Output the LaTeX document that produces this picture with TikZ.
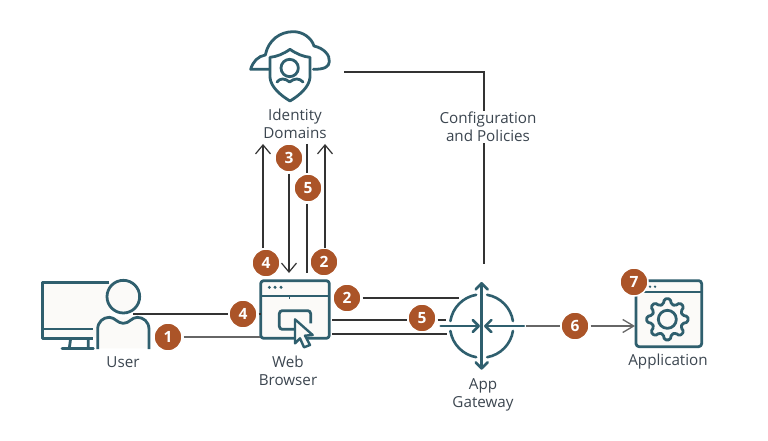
\documentclass[tikz,border=0pt]{standalone}
\usepackage{fontspec}
\setmainfont{Open Sans}
\usetikzlibrary{arrows.meta}
\definecolor{teal}{HTML}{2F5F6E}
\definecolor{badgec}{HTML}{AB5428}
\definecolor{labelc}{HTML}{3C4650}
\definecolor{paper}{HTML}{FBFAF8}
\tikzset{
  conn/.style={draw=black!80,line width=1.2pt},
  gconn/.style={draw=black!60,line width=1.5pt},
  flow/.style={conn,-{Straight Barb[length=9pt,width=15pt,line width=1.2pt]}},
  gflow/.style={gconn,-{Straight Barb[length=11pt,width=13pt,line width=1.3pt]}},
  icon/.style={draw=teal,line width=2.8pt,line join=round},
  thinicon/.style={draw=teal,line width=2.4pt,line join=round},
  badge/.style={circle,fill=badgec,draw=white,line width=1.5pt,minimum size=28pt,inner sep=0pt,
    text=white,font=\fontsize{15.5}{15.5}\selectfont\bfseries,outer sep=1.5pt},
  lbl/.style={text=labelc,font=\fontsize{15.2}{18.5}\selectfont,align=center,inner sep=1pt},
  zoomed/.style={shift={#1},scale=1/3},
  gwarrow/.style={draw=teal,line width=2.6pt,line join=round,line cap=round,fill=none},
}
\begin{document}
\begin{tikzpicture}[x=1pt,y=-1pt]
\useasboundingbox (0,0) rectangle (768,441);
\fill[white] (0,0) rectangle (768,441);

% ---- Identity Domains icon
\begin{scope}[zoomed={(230,20)}]
  \draw[icon,line cap=round] (118,148) -- (62,148) .. controls (68,125) and (85,108) .. (106,105)
    .. controls (115,60) and (150,35) .. (190,35) .. controls (220,35) and (245,55) .. (252,78)
    .. controls (282,85) and (300,105) .. (298,125) .. controls (297,140) and (285,148) .. (250,148);
  \draw[icon,fill=white] (180,88) .. controls (160,102) and (140,110) .. (120,112) -- (120,172)
    .. controls (122,200) and (150,225) .. (180,243) .. controls (210,225) and (238,200) .. (240,172)
    -- (240,112) .. controls (220,110) and (200,102) .. (180,88) -- cycle;
  \draw[icon] (179,144) circle[radius=26];
  \draw[icon,line cap=round] (141,186) .. controls (150,174) and (165,174) .. (179,186)
    .. controls (193,174) and (208,174) .. (219,186);
\end{scope}

% ---- User icon
\begin{scope}[zoomed={(30,260)}]
  \fill[paper] (38,68) rectangle (240,235);
  \draw[icon] (238,68) -- (38,68) -- (38,235) -- (190,235);
  \draw[icon] (38,207) -- (190,207);
  \draw[icon] (122,235) -- (118,264) (175,235) -- (175,264);
  \draw[icon,line cap=round] (96,265) -- (190,265);
  \draw[icon,fill=paper] (280,110) circle[radius=49];
  \fill[paper] (203,265) -- (203,205) -- (235,172) -- (325,172) -- (357,205) -- (357,265) -- cycle;
  \draw[icon] (203,267) -- (203,208) .. controls (203,185) and (220,172) .. (238,172)
    .. controls (255,172) and (262,190) .. (280,190) .. controls (298,190) and (305,172) .. (322,172)
    .. controls (340,172) and (357,185) .. (357,208) -- (357,267);
\end{scope}

% ---- Web browser icon
\begin{scope}[zoomed={(220,240)}]
  \draw[icon,fill=paper,rounded corners=3pt] (122,122) rectangle (328,295);
  \draw[icon] (122,168) -- (328,168);
  \draw[draw=teal,line width=1.6pt] (208,166) -- (208,176);
  \fill[teal] (148,142) circle[radius=5] (165,142) circle[radius=5] (183,142) circle[radius=5];
  \draw[icon,rounded corners=3pt] (225,268) -- (178,268) -- (178,212) -- (272,212) -- (272,250);
  \draw[thinicon,fill=paper] (225,238) -- (278,285) -- (255,287) -- (270,315) -- (252,322) -- (240,295) -- (225,310) -- cycle;
\end{scope}

% ---- App gateway icon
\begin{scope}[zoomed={(400,270)}]
  \draw[gwarrow] (245,168) ++(80:95) arc[start angle=80,end angle=9,radius=95];
  \draw[gwarrow] (245,168) ++(100:95) arc[start angle=100,end angle=171,radius=95];
  \draw[gwarrow] (245,168) ++(-80:95) arc[start angle=-80,end angle=-9,radius=95];
  \draw[gwarrow] (245,168) ++(-100:95) arc[start angle=-100,end angle=-171,radius=95];
  \draw[gwarrow] (245,40) -- (245,295);
  \draw[gwarrow] (227,58) -- (245,40) -- (263,58);
  \draw[gwarrow] (227,277) -- (245,295) -- (263,277);
  \draw[gwarrow] (122,168) -- (236,168);
  \draw[gwarrow] (218,150) -- (236,168) -- (218,186);
  \draw[gwarrow] (372,168) -- (256,168);
  \draw[gwarrow] (274,150) -- (256,168) -- (274,186);
\end{scope}

% ---- Application icon
\begin{scope}[zoomed={(550,260)}]
  \draw[icon,fill=paper,rounded corners=3pt] (258,62) rectangle (455,260);
  \draw[icon] (258,96) -- (455,96);
  \fill[teal] (300,80) circle[radius=4] (315,80) circle[radius=4];
  \begin{scope}[shift={(352,178)}]
    \draw[icon,rounded corners=1.5pt] (0:62)
      \foreach \a in {0,45,...,315}{
        -- ({\a+8}:62) -- ({\a+15}:47) -- ({\a+30}:47) -- ({\a+37}:62) -- ({\a+45}:62)
      } -- cycle;
    \draw[icon] (0,0) circle[radius=27];
  \end{scope}
\end{scope}

% ---- Labels
\node[lbl] (identity) at (295,124) {Identity\\Domains};
\node[lbl] (user) at (123,362) {User};
\node[lbl] (browser) at (288,371) {Web\\Browser};
\node[lbl] (gateway) at (483,395) {App\\Gateway};
\node[lbl] (app) at (668,362) {Application};

% ---- Anchor points on the icons
\coordinate (idOut) at (344,72);
\coordinate (cfgCorner) at (484,72);
\coordinate (gwTop) at (484,264);
\coordinate (userA) at (133,314);
\coordinate (brL4) at (261,314);
\coordinate (brL1) at (260,337);
\coordinate (brR5) at (332,320);
\coordinate (brR3) at (332,334);
\coordinate (gw2) at (459,298);
\coordinate (gw5a) at (446,320);
\coordinate (gw5b) at (447,334);
\coordinate (gwR) at (526,326);
\coordinate (appL) at (635,326);
\coordinate (a4s) at (263,248);
\coordinate (a4e) at (263,144);
\coordinate (a3e) at (289,273);
\coordinate (a5t) at (307,144);
\coordinate (a5b) at (307,273);
\coordinate (a2s) at (325,248);
\coordinate (a2e) at (325,144);

% ---- Badges
\node[badge] (b1) at (168,337) {1};
\node[badge] (b4a) at (243,314) {4};
\node[badge] (b4b) at (266,263) {4};
\node[badge] (b2a) at (324,262) {2};
\node[badge] (b2b) at (347,298) {2};
\node[badge] (b3) at (289,158) {3};
\node[badge] (b5a) at (308,188) {5};
\node[badge] (b5b) at (422,318) {5};
\node[badge] (b6) at (575,326) {6};
\node[badge] (b7) at (634,282) {7};

% ---- Connectors
\draw[conn] (userA) -- (b4a.west);
\draw[conn] (b4a.east) -- (brL4);
\draw[gconn] (b1.east) -- (brL1);
\draw[conn] (b2b.east) -- (gw2);
\draw[conn] (brR5) -- (b5b.west |- brR5);
\draw[conn] (b5b.east |- gw5a) -- (gw5a);
\draw[conn] (brR3) -- (gw5b);
\draw[gconn] (gwR) -- (b6.west);
\draw[gflow] (b6.east) -- (appL);
\draw[flow] (a4s) -- (a4e);
\draw[flow] (b3.south) -- (a3e);
\draw[conn] (a5t) -- (b5a.north -| a5t);
\draw[conn] (b5a.south -| a5b) -- (a5b);
\draw[flow] (a2s) -- (a2e);
\draw[conn] (idOut) -- (cfgCorner) -- (gwTop);
\node[lbl,fill=white] (cfg) at (488,127) {Configuration\\and Policies};
\end{tikzpicture}
\end{document}
